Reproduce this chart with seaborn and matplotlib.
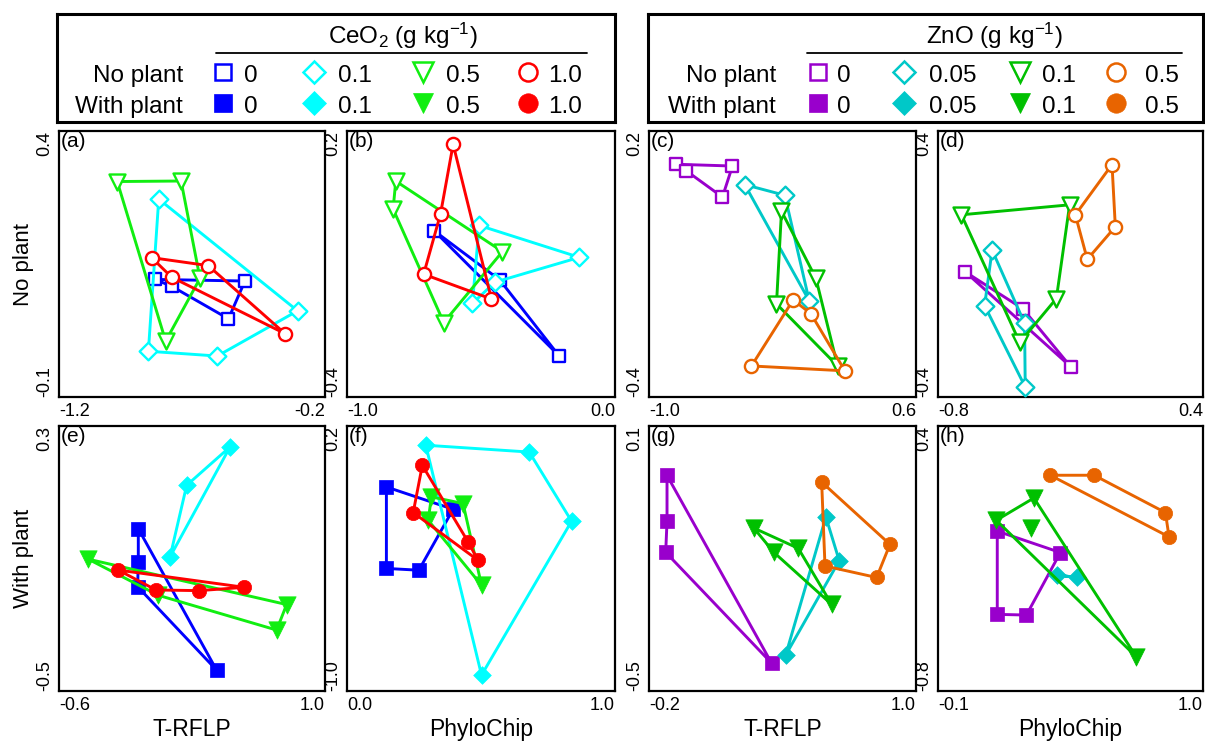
import matplotlib
matplotlib.use("Agg")
import matplotlib.pyplot as plt
import numpy as np
import seaborn as sns

sns.set_theme(style="white")
plt.rcParams["font.family"] = ["Liberation Sans", "DejaVu Sans"]
plt.rcParams["mathtext.fontset"] = "custom"
plt.rcParams["mathtext.rm"] = "Liberation Sans"
plt.rcParams["mathtext.it"] = "Liberation Sans:italic"
plt.rcParams["text.color"] = "black"
plt.rcParams["axes.labelcolor"] = "black"
plt.rcParams["xtick.color"] = "black"
plt.rcParams["ytick.color"] = "black"

W, H = 1205, 741

CEO2_DOSES = ["0", "0.1", "0.5", "1.0"]
ZNO_DOSES = ["0", "0.05", "0.1", "0.5"]
CEO2_COLORS = ["#0000FF", "#00FFFF", "#11EE11", "#FF0000"]
ZNO_COLORS = ["#9900CC", "#00C8C8", "#00C000", "#E86400"]
MARKERS = ["s", "D", "v", "o"]

# ordination scores per dose, listed in the order the outline joins them
# (a) CeO2, no plant, T-RFLP
A_X = {"0": [-0.839, -0.501, -0.563, -0.776], "0.1": [-0.825, -0.303, -0.605, -0.864],
       "0.5": [-0.981, -0.741, -0.670, -0.799], "1.0": [-0.852, -0.639, -0.350, -0.776]}
A_Y = {"0": [0.121, 0.118, 0.047, 0.108], "0.1": [0.272, 0.062, -0.023, -0.014],
       "0.5": [0.305, 0.306, 0.123, 0.005], "1.0": [0.162, 0.147, 0.019, 0.125]}
# (b) CeO2, no plant, PhyloChip
B_X = {"0": [-0.675, -0.430, -0.209], "0.1": [-0.507, -0.133, -0.448, -0.532],
       "0.5": [-0.818, -0.420, -0.639, -0.828], "1.0": [-0.604, -0.461, -0.714, -0.651]}
B_Y = {"0": [-0.025, -0.136, -0.307], "0.1": [-0.013, -0.085, -0.141, -0.189],
       "0.5": [0.087, -0.072, -0.232, 0.024], "1.0": [0.170, -0.179, -0.123, 0.013]}
# (c) ZnO, no plant, T-RFLP
C_X = {"0": [-0.840, -0.500, -0.560, -0.776], "0.05": [-0.426, -0.186, -0.040],
       "0.1": [-0.206, 0.000, 0.130, -0.236], "0.5": [-0.136, -0.030, 0.174, -0.386]}
C_Y = {"0": [0.125, 0.121, 0.051, 0.110], "0.05": [0.079, 0.055, -0.183],
       "0.1": [0.019, -0.132, -0.330, -0.190], "0.5": [-0.181, -0.212, -0.341, -0.330]}
# (d) ZnO, no plant, PhyloChip
D_X = {"0": [-0.676, -0.415, -0.199], "0.05": [-0.555, -0.408, -0.405, -0.589],
       "0.1": [-0.694, -0.204, -0.264, -0.430], "0.5": [-0.012, 0.003, -0.124, -0.178]}
D_Y = {"0": [-0.024, -0.135, -0.309], "0.05": [0.042, -0.178, -0.370, -0.125],
       "0.1": [0.148, 0.178, -0.104, -0.236], "0.5": [0.299, 0.112, 0.014, 0.148]}
# (e) CeO2, with plant, T-RFLP
E_X = {"0": [-0.123, -0.123, -0.127, 0.348], "0.1": [0.429, 0.168, 0.068],
       "0.5": [-0.424, 0.769, 0.709, -0.003], "1.0": [-0.243, 0.515, 0.242, -0.017]}
E_Y = {"0": [-0.010, -0.110, -0.185, -0.437], "0.1": [0.237, 0.121, -0.095],
       "0.5": [-0.102, -0.239, -0.316, -0.211], "1.0": [-0.135, -0.187, -0.197, -0.195]}
# (f) CeO2, with plant, PhyloChip
F_X = {"0": [0.147, 0.396, 0.268, 0.147], "0.1": [0.294, 0.680, 0.838, 0.502],
       "0.5": [0.315, 0.433, 0.502, 0.303], "1.0": [0.281, 0.452, 0.489, 0.247]}
F_Y = {"0": [-0.076, -0.177, -0.453, -0.445], "0.1": [0.113, 0.082, -0.231, -0.928],
       "0.5": [-0.121, -0.151, -0.521, -0.227], "1.0": [0.022, -0.325, -0.408, -0.192]}
# (g) ZnO, with plant, T-RFLP
G_X = {"0": [-0.119, -0.119, -0.125, 0.351], "0.05": [0.595, 0.655, 0.414],
       "0.1": [0.271, 0.471, 0.621, 0.361], "0.5": [0.576, 0.883, 0.823, 0.591]}
G_Y = {"0": [-0.012, -0.116, -0.186, -0.437], "0.05": [-0.106, -0.205, -0.419],
       "0.1": [-0.131, -0.177, -0.304, -0.186], "0.5": [-0.027, -0.168, -0.243, -0.217]}
# (h) ZnO, with plant, PhyloChip
H_X = {"0": [0.146, 0.408, 0.267, 0.146], "0.05": [0.395, 0.478],
       "0.1": [0.142, 0.298, 0.723, 0.287], "0.5": [0.366, 0.548, 0.844, 0.859]}
H_Y = {"0": [-0.076, -0.173, -0.456, -0.453], "0.05": [-0.275, -0.286],
       "0.1": [-0.027, 0.074, -0.645, -0.064], "0.5": [0.177, 0.177, 0.008, -0.102]}
# the fourth 0.1 point in (h) sits inside the outline and is not joined
H_OUTLINE = {"0.1": 3}

XLIMS = {"a": (-1.2, -0.2), "b": (-1.0, 0.0), "c": (-1.0, 0.6), "d": (-0.8, 0.4),
         "e": (-0.6, 1.0), "f": (0.0, 1.0), "g": (-0.2, 1.0), "h": (-0.1, 1.0)}
YLIMS = {"a": (-0.1, 0.4), "b": (-0.4, 0.2), "c": (-0.4, 0.2), "d": (-0.4, 0.4),
         "e": (-0.5, 0.3), "f": (-1.0, 0.2), "g": (-0.5, 0.1), "h": (-0.8, 0.4)}
XTICKLABELS = {"a": ["-1.2", "-0.2"], "b": ["-1.0", "0.0"], "c": ["-1.0", "0.6"], "d": ["-0.8", "0.4"],
               "e": ["-0.6", "1.0"], "f": ["0.0", "1.0"], "g": ["-0.2", "1.0"], "h": ["-0.1", "1.0"]}
YTICKLABELS = {"a": ["-0.1", "0.4"], "b": ["-0.4", "0.2"], "c": ["-0.4", "0.2"], "d": ["-0.4", "0.4"],
               "e": ["-0.5", "0.3"], "f": ["-1.0", "0.2"], "g": ["-0.5", "0.1"], "h": ["-0.8", "0.4"]}

OPEN_MS = {"s": 9.0, "D": 9.0, "v": 11.5, "o": 9.5}
FILLED_MS = {"s": 10.0, "D": 9.0, "v": 12.5, "o": 10.3}
KEY_OPEN_MS = {"s": 11.0, "D": 11.5, "v": 14.5, "o": 13.0}
KEY_FILLED_MS = {"s": 12.5, "D": 12.0, "v": 15.0, "o": 14.0}

COL_X = [(59, 325), (347, 615), (649, 916), (938, 1203)]
ROW_Y = [(131, 397), (426, 691)]


def px_rect(x0, y0, x1, y1):
    return [x0 / W, 1 - y1 / H, (x1 - x0) / W, (y1 - y0) / H]


def draw_panel(ax, letter, xs, ys, doses, colors, filled, outline=None):
    outline = outline or {}
    for i, (dose, color, marker) in enumerate(zip(doses, colors, MARKERS)):
        x = np.asarray(xs[dose])
        y = np.asarray(ys[dose])
        n = outline.get(dose, len(x))
        sns.lineplot(x=np.append(x[:n], x[0]), y=np.append(y[:n], y[0]), sort=False,
                     estimator=None, color=color, lw=2.1, ax=ax, zorder=2 + 2 * i)
        if filled:
            size = FILLED_MS[marker]
            sns.scatterplot(x=x, y=y, marker=marker, s=size ** 2, color=color,
                            edgecolor=color, linewidth=0.5, ax=ax, zorder=3 + 2 * i)
        else:
            size = OPEN_MS[marker]
            sns.scatterplot(x=x, y=y, marker=marker, s=size ** 2, color="white",
                            edgecolor=color, linewidth=1.7, ax=ax, zorder=3 + 2 * i)

    ax.set_xlim(*XLIMS[letter])
    ax.set_ylim(*YLIMS[letter])
    ax.set_xticks(XLIMS[letter])
    xt = ax.set_xticklabels(XTICKLABELS[letter], fontsize=13)
    xt[0].set_ha("left")
    xt[1].set_ha("right")
    ax.set_yticks(YLIMS[letter])
    yt = ax.set_yticklabels(YTICKLABELS[letter], fontsize=13, rotation=90)
    yt[0].set_va("bottom")
    yt[1].set_va("top")
    ax.tick_params(length=0, pad=4)
    ax.set_xlabel("")
    ax.set_ylabel("")
    for sp in ax.spines.values():
        sp.set_color("black")
        sp.set_linewidth(1.6)
    ax.text(0.008, 0.995, f"({letter})", transform=ax.transAxes, ha="left", va="top",
            fontsize=15, zorder=20)


def draw_key(box, title, doses, colors, marker_x, text_x, row_right, line_span):
    x0, y0, x1, y1 = box
    ax = fig.add_axes(px_rect(x0, y0, x1, y1))
    ax.set_xlim(0, x1 - x0)
    ax.set_ylim(y1 - y0, 0)
    ax.set_xticks([])
    ax.set_yticks([])
    for sp in ax.spines.values():
        sp.set_color("black")
        sp.set_linewidth(2.2)
    ax.text(346, 30, title, ha="center", va="baseline", fontsize=17.5)
    ax.plot(line_span, [39, 39], color="black", lw=1.3)
    for row_y, label, filled in ((58, "No plant", False), (89, "With plant", True)):
        ax.text(row_right, row_y + 10, label, ha="right", va="baseline", fontsize=17.5)
        for dose, color, marker, mx, tx in zip(doses, colors, MARKERS, marker_x, text_x):
            if filled:
                ax.plot(mx, row_y, marker=marker, ms=KEY_FILLED_MS[marker], mfc=color,
                        mec=color, mew=0.5, ls="none")
            else:
                ax.plot(mx, row_y, marker=marker, ms=KEY_OPEN_MS[marker], mfc="white",
                        mec=color, mew=1.8, ls="none")
            ax.text(tx, row_y + 10, dose, ha="left", va="baseline", fontsize=17.5)


fig = plt.figure(figsize=(W / 100, H / 100), dpi=100)

panels = [
    ("a", A_X, A_Y, CEO2_DOSES, CEO2_COLORS, False, None, 0, 0),
    ("b", B_X, B_Y, CEO2_DOSES, CEO2_COLORS, False, None, 0, 1),
    ("c", C_X, C_Y, ZNO_DOSES, ZNO_COLORS, False, None, 0, 2),
    ("d", D_X, D_Y, ZNO_DOSES, ZNO_COLORS, False, None, 0, 3),
    ("e", E_X, E_Y, CEO2_DOSES, CEO2_COLORS, True, None, 1, 0),
    ("f", F_X, F_Y, CEO2_DOSES, CEO2_COLORS, True, None, 1, 1),
    ("g", G_X, G_Y, ZNO_DOSES, ZNO_COLORS, True, None, 1, 2),
    ("h", H_X, H_Y, ZNO_DOSES, ZNO_COLORS, True, H_OUTLINE, 1, 3),
]

axes = {}
for letter, xs, ys, doses, colors, filled, outline, row, col in panels:
    (x0, x1), (y0, y1) = COL_X[col], ROW_Y[row]
    ax = fig.add_axes(px_rect(x0, y0, x1, y1))
    draw_panel(ax, letter, xs, ys, doses, colors, filled, outline)
    axes[letter] = ax

axes["a"].set_ylabel("No plant", fontsize=16, labelpad=2)
axes["e"].set_ylabel("With plant", fontsize=16, labelpad=2)
for letter, label in (("e", "T-RFLP"), ("f", "PhyloChip"), ("g", "T-RFLP"), ("h", "PhyloChip")):
    axes[letter].set_xlabel(label, fontsize=16.5, labelpad=3)

draw_key((57, 14, 615, 122), r"CeO$_\mathregular{2}$ (g kg$^\mathregular{-1}$)",
         CEO2_DOSES, CEO2_COLORS, [166, 257, 366, 471], [187, 281, 389, 491], 126, [159, 530])
draw_key((648, 14, 1203, 122), r"ZnO (g kg$^\mathregular{-1}$)",
         ZNO_DOSES, ZNO_COLORS, [170, 256, 372, 468], [189, 281, 394, 497], 128, [159, 534])

fig.savefig("out.png", dpi=100)
